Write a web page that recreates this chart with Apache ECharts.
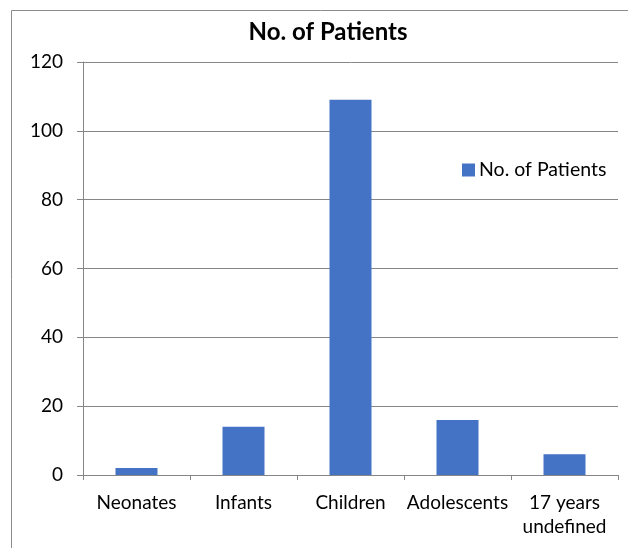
<!DOCTYPE html>
<html><head><meta charset="utf-8">
<script src="https://cdn.jsdelivr.net/npm/echarts@6/dist/echarts.min.js"></script>
<style>html,body{margin:0;padding:0;background:#fff}#c{width:628px;height:548px}</style>
</head><body><div id="c"></div>
<script>
const categories = ['Neonates', 'Infants', 'Children', 'Adolescents', '17 years\nundefined'];
const patients = [2, 14, 109, 16, 6];
const seriesName = 'No. of Patients';
const titleText = 'No. of Patients';

const FONT = 'Lato';
const chart = echarts.init(document.getElementById('c'), null, {renderer: 'canvas'});
chart.setOption({
  animation: false,
  backgroundColor: '#fff',
  title: {
    text: titleText, left: 328, textAlign: 'center', top: 20, padding: 0,
    textStyle: {fontFamily: FONT, fontWeight: 'bold', fontSize: 24, color: '#000'}
  },
  legend: {
    data: [seriesName], left: 462, top: 160, padding: 0, itemWidth: 13, itemHeight: 13, itemGap: 4,
    icon: 'rect',
    textStyle: {fontFamily: FONT, fontSize: 19.5, color: '#000', padding: [0,0,0,-1]}
  },
  grid: {left: 83, right: 10, top: 62, bottom: 73, containLabel: false},
  xAxis: {
    type: 'category', data: categories,
    axisLine: {lineStyle: {color: '#868686', width: 1}},
    axisTick: {show: true, length: 5, lineStyle: {color: '#868686'}},
    axisLabel: {fontFamily: FONT, fontSize: 19, color: '#000', margin: 16, lineHeight: 24, interval: 0}
  },
  yAxis: {
    type: 'value', min: 0, max: 120, interval: 20,
    axisLine: {show: true, lineStyle: {color: '#868686', width: 1}},
    axisTick: {show: true, length: 6, lineStyle: {color: '#868686'}},
    splitLine: {lineStyle: {color: '#868686', width: 1}},
    axisLabel: {fontFamily: FONT, fontSize: 19, color: '#000', margin: 20}
  },
  series: [{
    name: seriesName, type: 'bar', data: patients, barWidth: 42,
    itemStyle: {color: '#4472C4'}
  }],
  graphic: [{
    type: 'rect', shape: {x: 11.5, y: 10.5, width: 700, height: 700},
    style: {fill: null, stroke: '#8c8c8c', lineWidth: 1}, z: -1
  }]
});
</script></body></html>
